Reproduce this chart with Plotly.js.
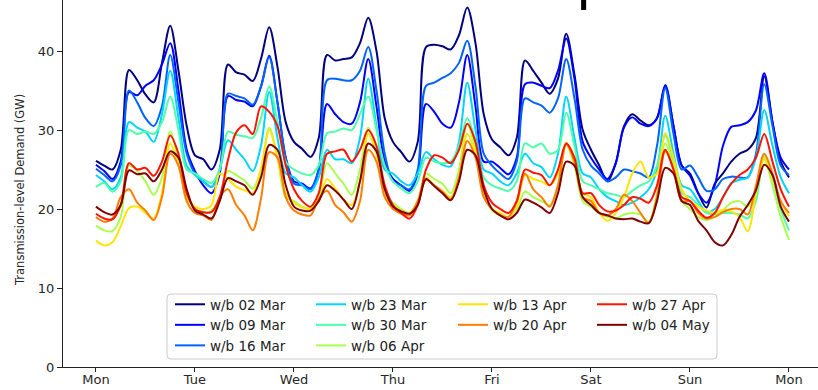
<!DOCTYPE html>
<html><head><meta charset="utf-8">
<script src="https://cdn.plot.ly/plotly-3.0.1.min.js"></script>
<style>html,body{margin:0;padding:0;background:#fff}#chart{width:818px;height:390px}</style>
</head><body><div id="chart"></div>
<script>
// ---------- data ----------
const dayLabels = ['Mon','Tue','Wed','Thu','Fri','Sat','Sun','Mon'];
const dayTicks = [0,1,2,3,4,5,6,7];
const yTicks = [0,10,20,30,40];
const stepHours = 2; // one reading every 2 hours, Mon 00:00 .. next Mon 00:00

const seriesNames = ['w/b 02 Mar','w/b 09 Mar','w/b 16 Mar','w/b 23 Mar','w/b 30 Mar',
                     'w/b 06 Apr','w/b 13 Apr','w/b 20 Apr','w/b 27 Apr','w/b 04 May'];
const seriesColors = ['#000080','#0000ff','#0063ff','#00d4ff','#4dffaa',
                      '#a9ff4d','#ffe500','#ff7d00','#ff1400','#800000'];
const legendColumn = [1,1,1,2,2,2,3,3,4,4];

// GW, 12 readings per day (00,02,...,22h) + final Monday 00h
const wb02Mar = [
26.1,25.5,25.0,27.5,37.6,36.3,34.5,33.5,38.5,43.2,37.5,30.5,
26.8,26.3,25.0,27.5,38.3,37.3,37.0,36.2,39.0,43.0,38.0,31.0,
28.5,27.6,26.6,29.0,39.5,38.8,39.0,39.2,41.0,44.2,40.0,31.5,
28.5,27.2,26.0,28.5,40.5,40.8,40.6,40.2,42.0,45.5,41.0,32.0,
28.8,27.8,26.8,29.0,38.8,37.5,36.0,34.6,36.5,42.2,37.0,30.0,
27.5,25.5,23.5,25.8,30.5,32.0,31.2,30.6,31.5,35.6,30.5,25.5,
24.5,22.0,20.2,23.2,24.5,26.0,27.0,27.5,29.0,36.8,31.0,26.0,
24.0];
const wb09Mar = [
25.6,24.8,23.8,26.0,34.8,34.4,35.6,36.3,38.3,41.0,35.0,27.5,
24.8,23.0,22.0,24.5,34.3,33.8,33.6,33.0,35.5,39.4,33.5,26.5,
23.5,23.2,22.6,25.0,33.3,32.0,31.0,30.8,33.5,39.0,33.0,26.0,
23.8,23.0,22.3,24.5,33.3,32.3,30.8,30.3,33.5,39.5,33.0,26.0,
26.0,25.2,24.4,26.5,35.8,36.0,35.6,35.3,37.5,41.6,36.5,28.5,
26.5,25.0,23.8,25.8,30.3,31.6,30.8,30.5,31.5,35.7,30.5,25.5,
24.2,22.0,20.8,23.0,28.0,30.4,30.6,31.0,32.5,37.2,31.0,26.5,
25.0];
const wb16Mar = [
25.1,24.3,23.5,25.5,35.0,33.5,31.5,30.5,33.0,39.5,33.5,27.0,
24.5,23.5,22.8,25.0,34.6,34.3,34.0,33.2,35.5,39.2,33.5,26.5,
23.2,23.0,22.5,25.0,36.3,36.5,36.3,36.3,37.5,40.5,35.0,27.0,
23.5,23.0,22.5,25.0,35.6,36.0,36.6,37.2,38.5,41.3,35.5,27.0,
25.5,24.5,23.8,26.0,34.0,33.5,33.1,32.2,34.0,39.0,34.0,27.5,
25.5,24.5,23.5,24.0,25.0,24.8,24.5,24.0,28.0,35.3,29.5,25.0,
25.5,24.0,22.3,22.5,23.8,24.1,24.0,24.0,27.0,35.8,30.5,25.5,
24.3];
const wb23Mar = [
24.3,23.5,22.5,24.0,31.0,30.3,29.8,28.5,32.0,37.5,31.5,25.5,
24.3,23.5,22.8,25.0,28.7,27.5,26.3,24.8,28.0,34.8,29.0,24.5,
24.0,23.0,22.2,24.0,27.5,26.3,26.3,25.8,29.0,36.5,30.5,25.0,
24.5,23.5,23.0,24.5,27.2,26.3,25.6,25.4,28.5,36.0,30.0,25.0,
24.5,23.5,23.0,24.5,27.0,25.8,25.3,24.0,27.0,34.2,29.0,24.5,
24.0,22.5,21.5,21.0,20.5,20.8,21.5,22.5,25.0,31.8,27.0,23.0,
22.5,21.0,19.6,20.0,21.5,23.3,23.7,24.0,26.5,32.5,28.0,24.0,
22.0];
const wb30Mar = [
22.8,23.3,22.2,23.5,30.0,29.5,29.8,29.5,31.0,34.2,30.0,25.0,
24.5,23.8,23.3,25.0,29.8,29.4,29.2,29.0,31.5,35.5,31.0,26.0,
25.0,24.5,24.3,25.5,29.6,29.8,30.2,30.0,32.0,34.2,30.0,25.5,
23.5,22.6,22.0,23.5,26.5,26.0,25.8,26.0,28.0,31.5,28.5,24.0,
23.0,22.6,22.3,23.5,28.3,27.8,28.3,27.0,27.5,32.2,28.0,23.5,
23.0,22.5,22.0,21.8,21.5,22.3,23.0,23.5,25.5,29.3,26.0,22.0,
21.5,20.5,19.5,19.3,19.5,19.5,19.3,18.8,21.0,26.8,24.0,20.0,
17.3];
const wb06Apr = [
17.9,17.3,17.2,19.0,25.5,24.8,23.5,21.8,24.0,29.8,26.0,21.0,
19.5,19.5,19.8,21.5,24.8,24.3,23.6,22.6,25.0,30.3,26.5,21.5,
21.0,20.3,20.1,21.5,25.8,24.5,23.2,21.8,25.0,30.3,27.0,22.0,
20.8,20.0,19.5,21.0,24.5,23.8,23.2,22.0,25.0,30.8,27.5,22.0,
19.8,19.2,19.0,20.0,22.2,21.5,21.0,20.5,23.0,28.0,25.5,21.0,
20.3,19.5,19.0,18.8,19.3,19.5,19.3,18.4,22.0,28.3,25.5,21.0,
20.0,19.0,18.6,19.0,19.8,20.8,21.0,20.3,22.0,26.3,23.0,19.0,
16.1];
const wb13Apr = [
16.0,15.4,15.8,17.8,20.1,20.3,19.5,18.8,22.0,28.3,25.5,21.5,
20.3,20.0,20.5,24.5,23.8,22.8,22.4,22.0,25.0,30.0,26.5,22.0,
20.8,20.2,20.0,21.0,23.8,22.6,21.2,20.5,23.5,29.5,27.0,22.0,
20.5,19.8,19.5,21.0,24.0,23.0,22.3,21.5,24.0,29.5,27.0,22.0,
20.0,19.5,19.0,20.5,24.3,23.8,23.5,23.0,24.5,28.4,26.0,22.0,
21.5,19.5,18.5,19.5,21.5,24.5,26.0,24.0,24.5,29.6,26.5,22.5,
21.0,20.3,19.8,19.5,19.9,19.7,19.0,17.2,22.0,26.5,24.0,21.0,
19.1];
const wb20Apr = [
19.0,18.4,18.8,21.5,22.5,20.8,19.8,18.6,21.5,27.0,25.5,21.0,
19.5,19.2,18.6,21.5,22.5,20.5,19.2,17.3,21.3,27.2,26.5,21.5,
19.8,19.3,19.2,21.3,22.3,20.5,19.6,18.4,21.0,27.5,26.0,21.5,
20.0,19.4,19.2,21.0,23.7,23.0,22.2,21.2,24.0,28.6,26.5,21.5,
20.0,19.2,19.0,21.0,24.5,22.5,21.5,20.3,23.0,28.2,26.0,21.5,
21.0,19.5,19.2,20.0,21.8,21.0,19.5,18.2,21.5,27.3,25.0,21.0,
21.0,19.5,18.8,19.0,19.6,20.0,20.0,19.3,23.0,27.0,24.5,21.0,
19.5];
const wb27Apr = [
19.4,18.8,18.7,20.5,25.8,25.0,25.2,24.2,26.0,29.3,27.0,22.0,
20.0,19.6,19.6,21.5,26.2,29.7,30.6,29.5,33.0,32.3,30.5,25.5,
22.5,21.0,20.3,22.0,27.0,27.3,27.5,26.0,27.5,30.0,28.0,23.0,
20.5,19.5,18.8,20.5,25.0,26.8,26.5,25.8,27.5,30.8,28.5,23.0,
20.8,20.0,19.5,21.0,25.0,24.6,24.3,23.0,25.0,28.3,26.5,22.0,
22.0,20.5,19.7,19.8,20.5,21.5,21.3,20.8,23.0,27.5,25.0,21.5,
21.0,19.8,18.9,19.5,21.5,23.2,24.3,25.0,26.5,29.5,26.0,22.5,
20.3];
const wb04May = [
20.3,19.6,19.3,20.5,24.9,24.4,24.5,23.5,25.0,27.3,26.5,22.5,
19.8,19.3,18.8,21.0,23.9,23.5,23.0,21.8,24.0,28.1,27.5,23.0,
20.3,19.8,19.8,21.0,23.0,22.3,21.2,20.0,23.5,28.3,27.3,22.5,
20.3,19.7,19.4,20.5,23.8,22.9,22.0,21.1,23.5,27.5,26.8,22.5,
20.0,19.2,18.7,19.5,21.2,20.8,20.2,19.5,22.0,26.0,25.5,21.5,
20.5,19.5,19.2,18.8,18.7,18.8,18.4,18.2,21.0,25.2,24.5,21.0,
20.5,18.5,17.3,15.8,15.4,16.7,19.0,20.5,22.4,25.6,24.3,20.3,
18.4];

const seriesValues = [wb02Mar,wb09Mar,wb16Mar,wb23Mar,wb30Mar,wb06Apr,wb13Apr,wb20Apr,wb27Apr,wb04May];
const timeDays = seriesValues[0].map((_, i) => i * stepHours / 24);

// ---------- layout geometry (pixels) ----------
const W = 818, H = 390;
const plotL = 63, plotR = 818, plotT = 0, plotB = 367;
const pw = plotR - plotL, ph = plotB - plotT;
const px2x = p => (p - plotL) / pw;
const py2y = p => (plotB - p) / ph;

const legendLeftPx = [170, 311, 453, 592];
const legendTopPx = 289;

const traces = seriesValues.map((vals, i) => ({
  x: timeDays, y: vals, type: 'scatter', mode: 'lines',
  name: seriesNames[i],
  line: {color: seriesColors[i], width: 2, shape: 'spline', smoothing: 0.9},
  legend: legendColumn[i] === 1 ? 'legend' : 'legend' + legendColumn[i],
  hoverinfo: 'skip'
}));

const legendFont = {family: 'DejaVu Sans', size: 13.5, color: '#222'};
function legendCfg(col) {
  return {x: px2x(legendLeftPx[col]), y: py2y(legendTopPx), xanchor: 'left', yanchor: 'top',
          xref: 'paper', yref: 'paper', orientation: 'v', bgcolor: 'rgba(0,0,0,0)',
          borderwidth: 0, font: legendFont, tracegroupgap: 0, itemwidth: 30};
}

// rounded legend frame
const bx0 = px2x(167), bx1 = px2x(717), by0 = py2y(359), by1 = py2y(294);
const rx = 4 / pw, ry = 4 / ph;
const framePath = `M${bx0+rx},${by0} L${bx1-rx},${by0} Q${bx1},${by0} ${bx1},${by0+ry} ` +
  `L${bx1},${by1-ry} Q${bx1},${by1} ${bx1-rx},${by1} L${bx0+rx},${by1} Q${bx0},${by1} ${bx0},${by1-ry} ` +
  `L${bx0},${by0+ry} Q${bx0},${by0} ${bx0+rx},${by0} Z`;

const axisFont = {family: 'DejaVu Sans', size: 13, color: '#262626'};
const layout = {
  width: W, height: H,
  margin: {l: plotL, r: W - plotR, t: plotT, b: H - plotB, pad: 0},
  paper_bgcolor: '#fff', plot_bgcolor: '#fff',
  showlegend: true,
  xaxis: {range: [-0.333, 7.293], tickvals: dayTicks, ticktext: dayLabels,
          showline: true, linecolor: '#222', linewidth: 1, ticks: 'outside', ticklen: 4,
          tickcolor: '#222', tickwidth: 1, showgrid: false, zeroline: false, tickfont: axisFont,
          ticklabelstandoff: -4, fixedrange: true},
  yaxis: {range: [0, 46.46], tickvals: yTicks, ticktext: yTicks.map(String),
          showline: true, linecolor: '#222', linewidth: 1, ticks: 'outside', ticklen: 5,
          tickcolor: '#222', tickwidth: 1, showgrid: false, zeroline: false, tickfont: axisFont,
          fixedrange: true},
  legend: legendCfg(0), legend2: legendCfg(1), legend3: legendCfg(2), legend4: legendCfg(3),
  shapes: [{type: 'path', xref: 'paper', yref: 'paper', path: framePath,
            line: {color: '#cccccc', width: 1}, fillcolor: 'rgba(255,255,255,0.8)', layer: 'below'}],
  annotations: [
    {text: 'Transmission-level Demand (GW)', textangle: -90, xref: 'paper', yref: 'paper',
     x: px2x(20), y: py2y(190), xanchor: 'center', yanchor: 'middle', showarrow: false,
     font: {family: 'DejaVu Sans', size: 11.5, color: '#262626'}},
    {text: 'p', xref: 'paper', yref: 'paper', x: px2x(594), y: py2y(-21),
     xanchor: 'center', yanchor: 'middle', showarrow: false,
     font: {family: 'DejaVu Sans', size: 56, color: '#000'}}
  ]
};

Plotly.newPlot('chart', traces, layout, {displayModeBar: false, staticPlot: true});
</script></body></html>
